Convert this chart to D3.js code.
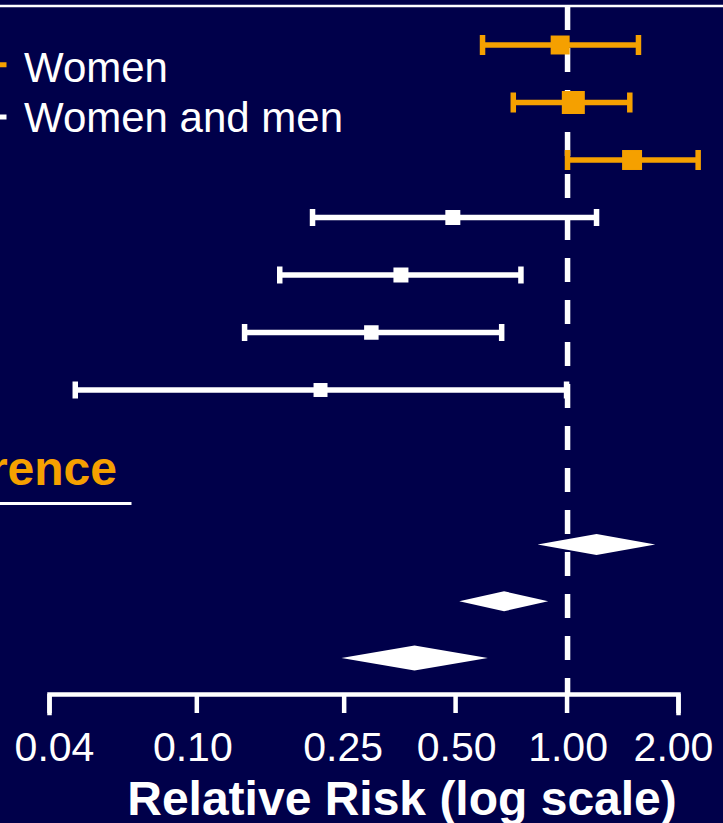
<!DOCTYPE html>
<html>
<head>
<meta charset="utf-8">
<script src="https://cdn.jsdelivr.net/npm/d3@7"></script>
<style>
html,body{margin:0;padding:0;background:#00004a;overflow:hidden}
svg{display:block}
</style>
</head>
<body>
<svg id="chart" width="723" height="823"></svg>
<script>
// ---------- data ----------
const studyIds    = ["S1","S2","S3","S4","S5","S6","S7"];
const studyGroup  = ["Women","Women","Women","Women and men","Women and men","Women and men","Women and men"];
const studyRR     = [0.961, 1.043, 1.503, 0.493, 0.357, 0.297, 0.2165];
const studyLow    = [0.593, 0.718, 1.006, 0.206, 0.168, 0.135, 0.0471];
const studyHigh   = [1.564, 1.482, 2.267, 1.205, 0.753, 0.668, 1.0];
const studyWeight = [16.8, 24.7, 18.6, 10.5, 10.5, 9.8, 9.1];

const summaryIds  = ["P1","P2","P3"];
const summaryRR   = [1.205, 0.678, 0.3885];
const summaryLow  = [0.835, 0.513, 0.2466];
const summaryHigh = [1.736, 0.892, 0.6128];

const tickValues  = [0.04, 0.10, 0.25, 0.50, 1.00, 2.00];
const tickLabels  = ["0.04","0.10","0.25","0.50","1.00","2.00"];
const legendLabels = ["Women","Women and men"];
const sectionLabel = "rence";
const axisTitle = "Relative Risk (log scale)";

// ---------- styles ----------
const BG = "#00004a", ORANGE = "#f5a000", WHITE = "#ffffff";
const FONT = "'Liberation Sans', Arial, Helvetica, sans-serif";
const groupColor = d3.scaleOrdinal().domain(legendLabels).range([ORANGE, WHITE]);
const capHalf = {"Women": 10, "Women and men": 8.5};
const diamondHalf = [10.5, 10, 12.5];
const labelShift = [5, -4, -1, 1, 1, -5];

const svg = d3.select("#chart");
svg.append("rect").attr("width",723).attr("height",823).attr("fill",BG);

// scales
const x = d3.scaleLog().domain([0.04, 2]).range([49, 678]);
const yStudy = d3.scalePoint().domain(studyIds).range([45, 390]);
const ySum = d3.scalePoint().domain(summaryIds).range([544.5, 658]);
const size = d3.scaleSqrt().domain([0, d3.max(studyWeight)]).range([0, 23]);
const axisY = 694;

// top rule
svg.append("line").attr("x1",0).attr("x2",723).attr("y1",6).attr("y2",6)
  .attr("stroke",WHITE).attr("stroke-width",2.5);

// reference dashed line at RR = 1
svg.append("line").attr("x1",x(1)+1).attr("x2",x(1)+1).attr("y1",6).attr("y2",axisY)
  .attr("stroke",WHITE).attr("stroke-width",5.5).attr("stroke-dasharray","24,18");

// legend
const leg = svg.append("g");
legendLabels.forEach((lab,i) => {
  const ly = [64.7,117][i];
  leg.append("line").attr("x1",-40).attr("x2",6.5).attr("y1",ly).attr("y2",ly)
    .attr("stroke",groupColor(lab)).attr("stroke-width",5);
  leg.append("text").attr("x",24).attr("y",[81.5,131.5][i]).text(lab)
    .attr("fill",WHITE).attr("font-family",FONT).attr("font-size",42);
});

// studies
const studies = studyIds.map((id,i)=>({id, g:studyGroup[i], rr:studyRR[i], lo:studyLow[i], hi:studyHigh[i], w:studyWeight[i]}));
const sg = svg.append("g").selectAll("g").data(studies).join("g");
sg.append("line").attr("x1",d=>x(d.lo)).attr("x2",d=>x(d.hi))
  .attr("y1",d=>yStudy(d.id)).attr("y2",d=>yStudy(d.id))
  .attr("stroke",d=>groupColor(d.g)).attr("stroke-width",5.3);
["lo","hi"].forEach(k=>{
  sg.append("line").attr("x1",d=>x(d[k])).attr("x2",d=>x(d[k]))
    .attr("y1",d=>yStudy(d.id)-capHalf[d.g]).attr("y2",d=>yStudy(d.id)+capHalf[d.g])
    .attr("stroke",d=>groupColor(d.g)).attr("stroke-width",5.5);
});
sg.append("rect")
  .attr("x",d=>x(d.rr)-size(d.w)/2).attr("y",d=>yStudy(d.id)-size(d.w)/2)
  .attr("width",d=>size(d.w)).attr("height",d=>size(d.w))
  .attr("fill",d=>groupColor(d.g));

// section heading
svg.append("text").attr("x",117).attr("y",485).attr("text-anchor","end")
  .text(sectionLabel).attr("fill",ORANGE).attr("font-family",FONT)
  .attr("font-weight","bold").attr("font-size",48);
svg.append("line").attr("x1",0).attr("x2",131.5).attr("y1",503.5).attr("y2",503.5)
  .attr("stroke",WHITE).attr("stroke-width",3);

// summary diamonds
const sums = summaryIds.map((id,i)=>({id, rr:summaryRR[i], lo:summaryLow[i], hi:summaryHigh[i], h:diamondHalf[i]}));
svg.append("g").selectAll("path").data(sums).join("path")
  .attr("d", d => {
    const yy = ySum(d.id);
    return `M${x(d.lo)},${yy}L${x(d.rr)},${yy-d.h}L${x(d.hi)},${yy}L${x(d.rr)},${yy+d.h}Z`;
  })
  .attr("fill",WHITE);

// axis
const axis = d3.axisBottom(x).tickValues(tickValues).tickFormat((d,i)=>tickLabels[i])
  .tickSize(19).tickSizeOuter(19).tickPadding(19);
const ag = svg.append("g").attr("transform",`translate(0,${axisY})`).call(axis);
ag.attr("font-family",FONT).attr("font-size",41);
ag.select(".domain").attr("stroke",WHITE).attr("stroke-width",4.5).attr("fill","none")
  .attr("stroke-linejoin","miter").attr("stroke-linecap","square");
ag.selectAll(".tick line").attr("stroke",WHITE).attr("stroke-width",4.5);
ag.selectAll(".tick text").attr("fill",WHITE).attr("dx",(d,i)=>labelShift[i]);

// axis title
svg.append("text").attr("x",402).attr("y",815).attr("text-anchor","middle")
  .text(axisTitle).attr("fill",WHITE).attr("font-family",FONT)
  .attr("font-weight","bold").attr("font-size",48);
</script>
</body>
</html>
